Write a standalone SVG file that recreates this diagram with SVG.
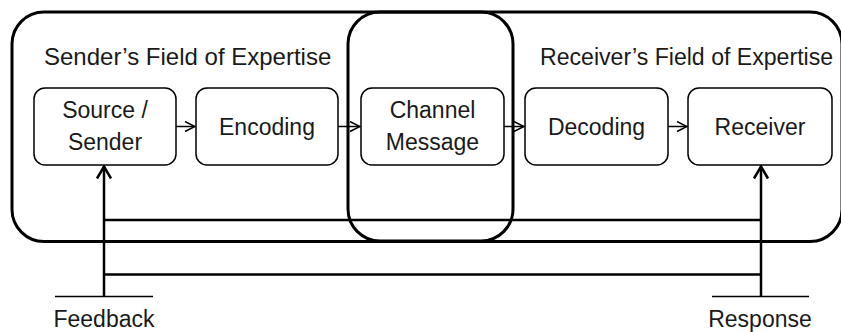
<svg xmlns="http://www.w3.org/2000/svg" width="841" height="332" viewBox="0 0 841 332">
  <style>
    .field { fill: none; stroke: #000; stroke-width: 3; }
    .box { fill: #fff; stroke: #000; stroke-width: 1.5; }
    .lbl { font-family: "Liberation Sans", Arial, sans-serif; font-size: 23px; fill: #1a1a1a; text-anchor: middle; }
    .hdr { font-family: "Liberation Sans", Arial, sans-serif; font-size: 24px; fill: #1a1a1a; }
    .hdr.narrow { font-size: 23.1px; }
    .flow { fill: none; stroke: #000; stroke-width: 1.5; }
    .loop { fill: none; stroke: #000; stroke-width: 2.5; }
    .ground { fill: none; stroke: #000; stroke-width: 1.5; }
  </style>
  <defs>
    <marker id="headSmall" markerUnits="userSpaceOnUse" viewBox="0 0 12 12" markerWidth="12" markerHeight="12" refX="11" refY="6" orient="auto">
      <path d="M1,1 L11,6 L1,11" fill="none" stroke="#000" stroke-width="1.5"/>
    </marker>
    <marker id="headLarge" markerUnits="userSpaceOnUse" viewBox="0 0 16 18" markerWidth="16" markerHeight="18" refX="14" refY="9" orient="auto">
      <path d="M2,2 L14,9 L2,16" fill="none" stroke="#000" stroke-width="2.5"/>
    </marker>
  </defs>

  <!-- fields of expertise -->
  <g id="fields">
    <rect class="field" x="12" y="12" width="830" height="229.5" rx="32" ry="32"/>
    <rect class="field" x="348" y="12" width="165" height="229" rx="32" ry="32"/>
    <text class="hdr" x="44" y="65">Sender’s Field of Expertise</text>
    <text class="hdr narrow" x="540" y="65">Receiver’s Field of Expertise</text>
  </g>

  <!-- nodes -->
  <g id="source">
    <rect class="box" x="34" y="88" width="142" height="77" rx="11" ry="11"/>
    <text class="lbl" x="105" y="118">Source /</text>
    <text class="lbl" x="105" y="150">Sender</text>
  </g>
  <g id="encoding">
    <rect class="box" x="196" y="88" width="142" height="77" rx="11" ry="11"/>
    <text class="lbl" x="267" y="135">Encoding</text>
  </g>
  <g id="channel">
    <rect class="box" x="361" y="88" width="143" height="77" rx="11" ry="11"/>
    <text class="lbl" x="432.5" y="118">Channel</text>
    <text class="lbl" x="432.5" y="150">Message</text>
  </g>
  <g id="decoding">
    <rect class="box" x="525" y="88" width="143" height="77" rx="11" ry="11"/>
    <text class="lbl" x="596.5" y="135">Decoding</text>
  </g>
  <g id="receiver">
    <rect class="box" x="688" y="88" width="144" height="77" rx="11" ry="11"/>
    <text class="lbl" x="760" y="135">Receiver</text>
  </g>
  <g id="feedback">
    <path class="ground" d="M55,296.5 H153"/>
    <text class="lbl" x="104" y="327">Feedback</text>
  </g>
  <g id="response">
    <path class="ground" d="M712,296.5 H809"/>
    <text class="lbl" x="760" y="327">Response</text>
  </g>

  <!-- connectors -->
  <g id="connectors">
    <path class="flow" d="M176,126.5 H195" marker-end="url(#headSmall)"/>
    <path class="flow" d="M338,126.5 H360" marker-end="url(#headSmall)"/>
    <path class="flow" d="M504,126.5 H524" marker-end="url(#headSmall)"/>
    <path class="flow" d="M668,126.5 H687" marker-end="url(#headSmall)"/>
    <path class="loop" d="M104,220 H761"/>
    <path class="loop" d="M104,274.5 H761"/>
    <path class="loop" d="M104,296.5 V166.5" marker-end="url(#headLarge)"/>
    <path class="loop" d="M761,296.5 V166.5" marker-end="url(#headLarge)"/>
  </g>
</svg>
